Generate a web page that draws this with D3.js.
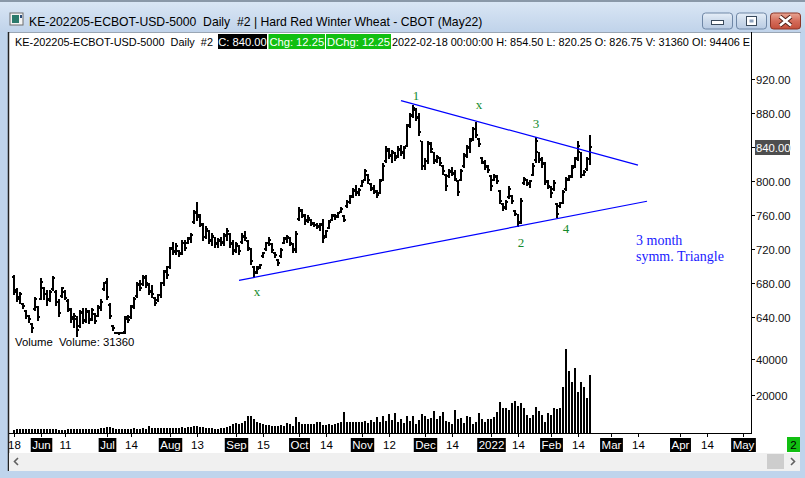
<!DOCTYPE html>
<html><head><meta charset="utf-8">
<script src="https://cdn.jsdelivr.net/npm/d3@7"></script>
<style>
html,body{margin:0;padding:0;background:#bcd1ea;}
svg{display:block;}
text{font-family:"Liberation Sans",Arial,sans-serif;}
text.serif{font-family:"Liberation Serif","Times New Roman",serif;}
</style></head>
<body>
<svg id="c" width="805" height="478"></svg>
<script>
// ---------------- DATA ----------------
const firstBarDate = "2021-05-18";
const axisEndDate = "2022-05-04";
const historicHolidays = ["2021-05-31","2021-07-05","2021-09-06","2021-11-25","2021-12-24","2022-01-17"];

const barOpen = [688,670,662,656,648,641,632,650,652,662,674,667,661,673,670,658,665,670,659,649,640,638,630,645,637,646,638,644,642,651,
673,681,655,630,622,622,621,623,640,640,653,665,678,679,686,678,670,663,660,666,680,694,699,721,718,718,716,727,728,732,
752,764,760,749,735,742,731,734,727,730,729,736,738,726,719,724,729,735,730,720,699,693,699,712,720,728,726,716,708,712,
728,732,733,726,719,756,765,759,754,755,750,749,746,750,736,745,755,759,759,764,759,771,776,783,789,787,795,802,808,797,
791,788,786,802,824,836,831,833,830,837,833,842,866,878,884,876,847,818,824,844,834,825,828,818,808,806,811,810,800,802,
818,831,839,850,862,850,828,822,817,806,802,805,789,773,770,781,783,765,761,752,798,802,797,808,825,834,825,821,799,793,
791,773,771,775,791,803,806,818,827,834,808,814,826.75];
const barHigh = [690,674,670,657,649,643,633,664,653,686,676,672,672,689,672,661,676,672,661,651,645,641,649,651,651,649,651,645,655,661,
682,686,657,631,623,623,623,641,643,655,664,682,684,690,690,680,678,664,668,682,696,700,723,729,727,719,731,731,735,739,
766,776,762,751,747,743,739,735,733,735,739,745,739,731,729,725,739,741,731,721,700,700,703,717,729,735,727,717,709,721,
735,737,735,727,741,770,768,762,760,756,752,751,751,756,743,754,762,762,764,770,760,778,784,792,796,792,801,815,809,798,
796,790,803,821,841,839,837,835,841,843,841,868,880,890,886,880,848,827,848,846,835,831,829,819,809,815,817,813,801,815,
833,843,851,864,870,851,829,825,819,807,809,807,790,774,778,794,784,766,762,780,805,803,801,821,852,835,829,823,801,794,
801,774,776,790,805,807,819,829,847,835,813,829,854.5];
const barLow = [668,659,657,651,639,635,623,649,637,661,661,655,659,672,655,641,664,661,647,635,629,618,629,633,635,633,637,633,641,649,
672,661,639,625,621,620,621,621,635,639,651,664,672,678,676,668,664,654,659,664,678,686,698,714,715,712,715,719,727,729,
751,755,747,731,733,727,725,723,723,725,725,731,723,714,717,715,727,731,719,703,688,692,698,711,719,725,717,711,701,711,
727,729,725,717,717,754,758,750,752,749,747,745,743,729,735,745,754,756,758,764,753,770,774,782,784,784,794,801,798,790,
786,782,786,801,823,827,823,825,829,831,827,841,864,876,872,854,815,815,821,835,821,823,819,809,790,805,807,801,784,801,
817,829,835,849,852,841,821,815,811,790,801,798,774,766,768,780,774,760,748,751,797,796,793,807,823,823,817,797,792,782,
790,758,770,774,790,801,805,817,825,805,807,813,820.25];
const barClose = [672,664,667,653,642,638,627,662,640,682,668,660,670,686,658,645,674,663,650,638,642,625,646,636,648,637,649,636,652,658,
680,664,642,627,622,621,622,638,637,652,661,679,675,687,680,671,667,657,666,680,693,690,720,717,724,714,728,722,733,737,
763,758,750,734,744,730,736,726,731,728,737,741,727,718,726,718,736,733,721,706,692,697,701,716,727,731,719,713,704,719,
733,734,727,720,738,766,760,753,757,751,749,747,749,733,741,752,760,758,763,768,755,776,781,790,786,790,799,812,801,792,
789,784,800,818,838,830,834,827,838,834,839,865,877,886,875,858,818,824,845,838,824,829,822,812,794,812,809,803,788,812,
830,840,847,861,855,844,823,818,813,795,806,800,777,769,776,791,777,762,751,777,803,798,800,818,848,826,820,800,794,786,
798,762,774,787,802,805,816,826,842,808,811,826,840];
const volume = [600,1000,900,1100,1000,1200,1100,1000,1000,1100,1000,1100,1000,1000,900,700,600,800,1000,1100,1000,1200,1100,1100,1100,1100,1100,1200,1300,1400,
1800,2200,2400,1400,1300,1300,1200,1100,1200,1100,1400,1200,1200,1500,1300,2600,1600,1700,1800,1700,1800,1900,1700,1900,1800,1700,2100,1900,2000,2400,
2700,2900,2200,2400,1900,1700,1400,1200,1300,1500,1600,2000,2600,3700,4300,3800,4500,5600,8400,8500,6600,4900,4500,4000,3400,3200,2800,3000,2600,3300,
2700,4400,3700,2900,8000,5000,3900,3800,3700,3700,3900,5000,5200,3500,3200,3700,3300,3700,4300,4900,10500,5200,4900,5100,5000,5100,4800,5600,4400,6100,
5000,7900,5200,8300,5500,9400,6100,10200,5200,6500,4600,8300,5700,8300,3900,6100,9400,8300,6800,7200,11100,6800,8300,10400,5500,4800,3900,11700,6800,7200,
4300,8300,7600,3900,5000,10200,6500,5000,6800,6800,8000,10500,16100,12800,12800,11700,15400,16700,13900,15400,12800,8900,7200,8900,13100,11100,8900,5000,10000,8900,
12800,12400,12800,24400,45500,33300,27200,35000,21700,27200,24400,18300,31360];

const priceTicks = [640,680,720,760,800,840,880,920];
const volumeTicks = [20000,40000];
const xTickDates = ["2021-05-18","2021-06-01","2021-06-11","2021-07-01","2021-07-14","2021-08-02","2021-08-13","2021-09-01","2021-09-15","2021-10-01","2021-10-14","2021-11-01","2021-11-12","2021-12-01","2021-12-14","2022-01-03","2022-01-14","2022-02-01","2022-02-14","2022-03-01","2022-03-14","2022-04-01","2022-04-14","2022-05-02"];
const xTickLabels = ["18","Jun","11","Jul","14","Aug","13","Sep","15","Oct","14","Nov","12","Dec","14","2022","14","Feb","14","Mar","14","Apr","14","May"];

const upperLine = [["2021-11-18",895],["2022-03-14",819]];
const lowerLine = [["2021-09-02",683.5],["2022-03-17",776.5]];
const waveLabels = ["1","x","3","2","4","x"];
const waveDates = ["2021-11-26","2021-12-28","2022-01-25","2022-01-18","2022-02-08","2021-09-13"];
const wavePrices = [901,890,868.5,728.5,745,671];

const titleText = "KE-202205-ECBOT-USD-5000  Daily  #2 | Hard Red Winter Wheat - CBOT (May22)";
const symbolText = "KE-202205-ECBOT-USD-5000  Daily  #2";
const closeText = "C: 840.00";
const chgText = "Chg: 12.25";
const dchgText = "DChg: 12.25";
const infoText = "2022-02-18 00:00:00 H: 854.50 L: 820.25 O: 826.75 V: 31360 OI: 94406 E";
const volText = "Volume  Volume: 31360";
const lastClose = 840;

// ---------------- CALENDAR ----------------
const fmt = d3.utcFormat("%Y-%m-%d");
const dates = [];
{
  let d = new Date(firstBarDate + "T00:00:00Z");
  const end = new Date(axisEndDate + "T00:00:00Z");
  while (d <= end) {
    const wd = d.getUTCDay();
    const s = fmt(d);
    if (wd !== 0 && wd !== 6 && !historicHolidays.includes(s)) dates.push(s);
    d = new Date(d.getTime() + 86400000);
  }
}

// ---------------- SCALES ----------------
const x = d3.scalePoint().domain(dates).range([14, 14 + 3 * (dates.length - 1)]);
const y = d3.scaleLinear().domain([640, 920]).range([317.3, 79.3]);
const yv = d3.scaleLinear().domain([0, 40000]).range([431, 359]);

const svg = d3.select("#c");

// ---------------- WINDOW CHROME ----------------
const defs = svg.append("defs");
const tg = defs.append("linearGradient").attr("id","tg").attr("x1",0).attr("y1",0).attr("x2",0).attr("y2",1);
tg.append("stop").attr("offset","0%").attr("stop-color","#dbe7f5");
tg.append("stop").attr("offset","100%").attr("stop-color","#c0d3ea");
const bg = defs.append("linearGradient").attr("id","bg").attr("x1",0).attr("y1",0).attr("x2",0).attr("y2",1);
bg.append("stop").attr("offset","0%").attr("stop-color","#e6eef8");
bg.append("stop").attr("offset","50%").attr("stop-color","#ccdaeb");
bg.append("stop").attr("offset","100%").attr("stop-color","#b8cbe3");
const rg = defs.append("linearGradient").attr("id","rg").attr("x1",0).attr("y1",0).attr("x2",0).attr("y2",1);
rg.append("stop").attr("offset","0%").attr("stop-color","#e9a795");
rg.append("stop").attr("offset","50%").attr("stop-color","#d46c5a");
rg.append("stop").attr("offset","100%").attr("stop-color","#c4503c");

svg.append("rect").attr("x",0).attr("y",0).attr("width",805).attr("height",478).attr("fill","#bfd4ec");
svg.append("rect").attr("x",0).attr("y",0).attr("width",805).attr("height",32).attr("fill","url(#tg)");
svg.append("rect").attr("x",0).attr("y",0).attr("width",805).attr("height",2).attr("fill","#8a98a8");
// icon
svg.append("rect").attr("x",10).attr("y",13).attr("width",13).attr("height",12).attr("fill","#f4f4f4").attr("stroke","#6c6c6c");
svg.append("rect").attr("x",12).attr("y",15).attr("width",7).attr("height",8).attr("fill","#2b7a6c");
svg.append("rect").attr("x",20).attr("y",15).attr("width",2).attr("height",3).attr("fill","#2b4c7a");
svg.append("text").attr("x",29).attr("y",26).attr("font-size",12.2).attr("fill","#000").attr("xml:space","preserve").text(titleText);
// buttons
function btn(x0, fill, stroke){
  svg.append("rect").attr("x",x0).attr("y",13).attr("width",30).attr("height",16).attr("rx",3)
    .attr("fill",fill).attr("stroke",stroke);
}
btn(702.5,"url(#bg)","#6f87a6");
btn(736.5,"url(#bg)","#6f87a6");
btn(770.5,"url(#rg)","#8b3527");
svg.append("rect").attr("x",711.5).attr("y",20.5).attr("width",12).attr("height",4).attr("fill","#fff").attr("stroke","#3a4a5c");
svg.append("rect").attr("x",746.5).attr("y",16.5).attr("width",10).attr("height",9).attr("fill","#fff").attr("stroke","#3a4a5c");
svg.append("rect").attr("x",749.5).attr("y",19.5).attr("width",4).attr("height",3).attr("fill","#8da2bd");
svg.append("path").attr("d","M780,16.5 L791,25.5 M791,16.5 L780,25.5").attr("stroke","#4a1a12").attr("stroke-width",4.2);
svg.append("path").attr("d","M780,16.5 L791,25.5 M791,16.5 L780,25.5").attr("stroke","#fff").attr("stroke-width",2.6);

// chart area
svg.append("rect").attr("x",9).attr("y",32).attr("width",791).attr("height",421).attr("fill","#fff");
svg.append("line").attr("x1",8).attr("x2",801).attr("y1",32.5).attr("y2",32.5).attr("stroke","#9aa6b4");
svg.append("line").attr("x1",8.5).attr("x2",8.5).attr("y1",32).attr("y2",471).attr("stroke","#222").attr("stroke-width",1.5);
// scrollbar
svg.append("rect").attr("x",9).attr("y",453).attr("width",791).attr("height",18).attr("fill","#f0f0f0");
svg.append("rect").attr("x",767).attr("y",454).attr("width",17).attr("height",15).attr("fill","#cdcdcd");
svg.append("path").attr("d","M18,458 L14.5,461.5 L18,465").attr("fill","none").attr("stroke","#606060").attr("stroke-width",1.6);
svg.append("path").attr("d","M791,458 L794.5,461.5 L791,465").attr("fill","none").attr("stroke","#606060").attr("stroke-width",1.6);

// ---------------- HEADER ROW ----------------
svg.append("text").attr("x",15).attr("y",46).attr("font-size",10.9).attr("xml:space","preserve").text(symbolText);
const boxes = [[218,267,"#000",closeText],[268.5,325,"#11bf11",chgText],[326,391,"#11bf11",dchgText]];
boxes.forEach(b=>{
  svg.append("rect").attr("x",b[0]).attr("y",34).attr("width",b[1]-b[0]).attr("height",15).attr("fill",b[2]);
  svg.append("text").attr("x",(b[0]+b[1])/2).attr("y",46).attr("text-anchor","middle").attr("font-size",11.2).attr("fill","#fff").text(b[3]);
});
svg.append("clipPath").attr("id","hc").append("rect").attr("x",0).attr("y",30).attr("width",751).attr("height",30);
svg.append("text").attr("x",392).attr("y",46).attr("font-size",10.9).attr("clip-path","url(#hc)").text(infoText);

// ---------------- AXES ----------------
const axisX = 751;
svg.append("line").attr("x1",axisX+0.5).attr("x2",axisX+0.5).attr("y1",32).attr("y2",434).attr("stroke","#000");
svg.append("line").attr("x1",9).attr("x2",axisX+1).attr("y1",433.5).attr("y2",433.5).attr("stroke","#000");

const pAxis = svg.append("g");
priceTicks.forEach(p=>{
  const yy = Math.round(y(p)) + 0.5;
  pAxis.append("line").attr("x1",axisX).attr("x2",axisX+4).attr("y1",yy).attr("y2",yy).attr("stroke","#000");
  pAxis.append("text").attr("x",756).attr("y",yy).attr("dy","0.36em").attr("font-size",11.3).attr("fill","#111").text(d3.format(".2f")(p));
});
// last price marker
{
  const yy = Math.round(y(lastClose)) + 0.5;
  svg.append("rect").attr("x",755).attr("y",yy-7.5).attr("width",35).attr("height",15).attr("fill","#4e4e4e");
  svg.append("text").attr("x",756).attr("y",yy).attr("dy","0.36em").attr("font-size",11.3).attr("fill","#fff").text(d3.format(".2f")(lastClose));
}
volumeTicks.forEach(v=>{
  const yy = Math.round(yv(v)) + 0.5;
  svg.append("line").attr("x1",axisX).attr("x2",axisX+4).attr("y1",yy).attr("y2",yy).attr("stroke","#000");
  svg.append("text").attr("x",756).attr("y",yy).attr("dy","0.36em").attr("font-size",11.3).attr("fill","#111").text(v);
});

// x ticks
xTickDates.forEach((d,i)=>{
  const xx = x(d) + 0.5;
  svg.append("line").attr("x1",xx).attr("x2",xx).attr("y1",433).attr("y2",437).attr("stroke","#000");
  const boxed = i % 2 === 1;
  const t = svg.append("text").attr("x",xx).attr("y",445).attr("dy","0.36em").attr("text-anchor","middle")
    .attr("font-size",11.5).attr("fill", boxed ? "#fff" : "#000").text(xTickLabels[i]);
  if (boxed) {
    const w = t.node().getComputedTextLength();
    svg.insert("rect", () => t.node()).attr("x",xx - w/2 - 1.5).attr("y",438).attr("width",w+3).attr("height",14).attr("fill","#000");
  }
});
// green pane marker
svg.append("rect").attr("x",787).attr("y",437).attr("width",13).attr("height",15).attr("fill","#11bf11");
svg.append("text").attr("x",793.5).attr("y",445).attr("dy","0.36em").attr("text-anchor","middle").attr("font-size",11.5).attr("fill","#000").text("2");

// ---------------- PRICE BARS ----------------
const bars = svg.append("g").attr("shape-rendering","crispEdges");
barClose.forEach((c,i)=>{
  const xx = x(dates[i]);
  const yh = y(barHigh[i]), yl = y(barLow[i]);
  bars.append("rect").attr("x",xx-1).attr("y",Math.round(yh)).attr("width",2).attr("height",Math.max(1,Math.round(yl)-Math.round(yh)+1)).attr("fill","#000");
  bars.append("rect").attr("x",xx-2).attr("y",Math.round(y(barOpen[i]))-1).attr("width",1).attr("height",2).attr("fill","#000");
  bars.append("rect").attr("x",xx+1).attr("y",Math.round(y(c))-1).attr("width",1).attr("height",2).attr("fill","#000");
});

// ---------------- VOLUME ----------------
svg.append("text").attr("x",15).attr("y",346).attr("font-size",11.3).attr("xml:space","preserve").text(volText);
const vg = svg.append("g").attr("shape-rendering","crispEdges");
volume.forEach((v,i)=>{
  const xx = x(dates[i]);
  const top = Math.round(yv(v));
  vg.append("rect").attr("x",xx-1).attr("y",top).attr("width",2).attr("height",Math.max(1,433-top)).attr("fill","#000");
});

// ---------------- TRIANGLE & LABELS ----------------
[upperLine, lowerLine].forEach(l=>{
  svg.append("line").attr("x1",x(l[0][0])).attr("y1",y(l[0][1])).attr("x2",x(l[1][0])).attr("y2",y(l[1][1]))
    .attr("stroke","#0000ff").attr("stroke-width",1.2);
});
waveLabels.forEach((t,i)=>{
  svg.append("text").attr("class","serif").attr("x",x(waveDates[i])).attr("y",y(wavePrices[i])).attr("dy","0.35em").attr("text-anchor","middle")
    .attr("font-size",13).attr("fill","#138a2c").text(t);
});
svg.append("text").attr("class","serif").attr("x",x("2022-03-14")-2).attr("y",y(720)-4).attr("font-size",14).attr("fill","#1a1aff").text("3 month");
svg.append("text").attr("class","serif").attr("x",x("2022-03-14")-2).attr("y",y(720)+12).attr("font-size",14).attr("fill","#1a1aff").text("symm. Triangle");
</script>
</body></html>
